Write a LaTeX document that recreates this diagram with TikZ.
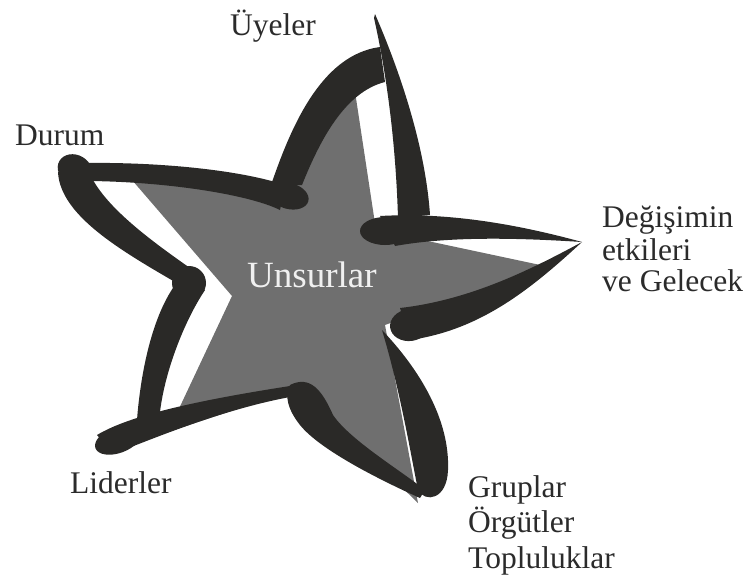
\documentclass[tikz,border=0pt]{standalone}
\usepackage{fontspec}
\setmainfont{Liberation Serif}
\definecolor{ink}{HTML}{2A2927}
\definecolor{stargrey}{HTML}{6F6F6F}
\definecolor{txt}{HTML}{2B2B2B}
\tikzset{
  lbl/.style={anchor=base west, inner sep=0pt, text=txt, font=\fontsize{31.5}{35}\selectfont},
  brush/.style={fill=ink}
}
\begin{document}
\begin{tikzpicture}[x=1pt,y=-1pt]
\useasboundingbox (0,0) rectangle (750,579);
% grey star
\fill[stargrey] (354,85) -- (376,230) -- (545,266) -- (385,325) -- (418,503) -- (300,388)
  -- (168,432) -- (232,296) -- (132,180) -- (285,200) -- cycle;
% brush strokes
% J: Durum horizontal
\fill[brush] (85,163) .. controls (160,162) and (240,170) .. (285,185) -- (280,210)
  .. controls (250,195) and (170,182) .. (90,181) -- cycle;
% I: left descending
\fill[brush] (58,172) .. controls (60,215) and (120,250) .. (175,282) -- (190,268)
  .. controls (150,240) and (110,210) .. (93,180) -- cycle;
\fill[brush, rotate around={-30:(75,170)}] (75,170) ellipse [x radius=18, y radius=15];
% A: top arch
\fill[brush] (271,185) .. controls (290,130) and (320,55) .. (380,47) -- (385,82)
  .. controls (345,92) and (320,140) .. (302,185) -- cycle;
\fill[brush, rotate around={-15:(289,196)}] (289,196) ellipse [x radius=20, y radius=13];
% B: right spike
\fill[brush] (375,14) .. controls (395,60) and (425,140) .. (430,215) -- (398,218)
  .. controls (396,150) and (388,80) .. (374,18) -- cycle;
% C: right upper
\fill[brush] (380,216) .. controls (450,212) and (520,225) .. (582,242)
  .. controls (520,238) and (450,236) .. (395,246) -- cycle;
\fill[brush] (385,231) ellipse [x radius=25, y radius=14];
% D: right lower
\fill[brush] (400,308) .. controls (470,300) and (530,270) .. (582,242)
  .. controls (530,290) and (480,330) .. (410,340) -- cycle;
\fill[brush, rotate around={8:(410,325)}] (410,325) ellipse [x radius=20, y radius=16];
% E: bottom right
\fill[brush] (382,330) .. controls (420,370) and (450,420) .. (448,470)
  .. controls (447,500) and (425,503) .. (418,490)
  .. controls (410,450) and (400,390) .. (382,330) -- cycle;
% F: bottom middle
\fill[brush] (290,385) .. controls (310,375) and (322,390) .. (333,415)
  .. controls (350,440) and (400,470) .. (425,490) -- (420,498)
  .. controls (380,480) and (320,450) .. (300,425)
  .. controls (288,410) and (284,395) .. (290,385) -- cycle;
% G: bottom left
\fill[brush] (97,435) .. controls (130,415) and (200,400) .. (290,386) -- (290,397)
  .. controls (220,410) and (150,440) .. (113,454) -- cycle;
\fill[brush, rotate around={20:(118,440)}] (118,440) ellipse [x radius=24, y radius=13];
% H: left vertical
\fill[brush] (175,285) .. controls (150,320) and (140,380) .. (137,420) -- (160,412)
  .. controls (165,370) and (185,320) .. (205,290) -- cycle;
\fill[brush] (189,283) circle [radius=17];
% labels
\node[lbl] (uyeler) at (230,35) {Üyeler};
\node[lbl] (durum) at (15,145) {Durum};
\node[lbl] (deg1) at (602,227) {Değişimin};
\node[lbl] (deg2) at (602,260) {etkileri};
\node[lbl] (deg3) at (602,291) {ve Gelecek};
\node[lbl] (lider) at (70,493) {Liderler};
\node[lbl] (grp1) at (468,497) {Gruplar};
\node[lbl] (grp2) at (468,532) {Örgütler};
\node[lbl] (grp3) at (468,568) {Topluluklar};
\node[anchor=base west, inner sep=0pt, text=white!94!black, font=\fontsize{37}{40}\selectfont] (uns) at (247,287) {Unsurlar};
\end{tikzpicture}
\end{document}
